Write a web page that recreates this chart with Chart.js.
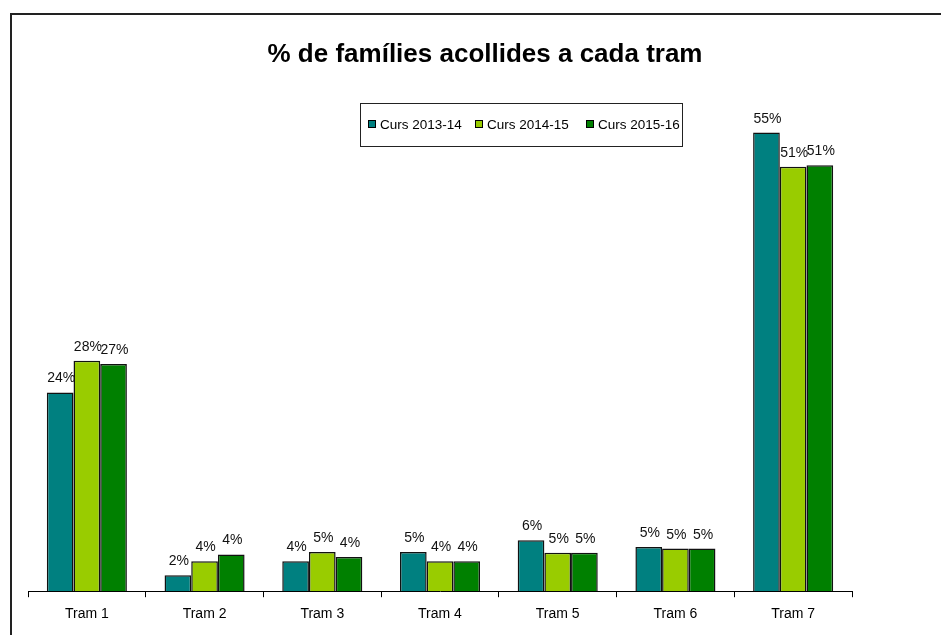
<!DOCTYPE html>
<html>
<head>
<meta charset="utf-8">
<script src="https://cdn.jsdelivr.net/npm/chart.js@4/dist/chart.umd.min.js"></script>
<style>
html,body{margin:0;padding:0;background:#fff;}
canvas{display:block;}
</style>
</head>
<body>
<canvas id="c" width="941" height="635"></canvas>
<script>
const categories = ["Tram 1","Tram 2","Tram 3","Tram 4","Tram 5","Tram 6","Tram 7"];
const seriesNames = ["Curs 2013-14","Curs 2014-15","Curs 2015-16"];
const curs2013 = [23.8, 1.9, 3.6, 4.7, 6.1, 5.3, 54.9];
const curs2014 = [27.6, 3.6, 4.7, 3.6, 4.6, 5.1, 50.8];
const curs2015 = [27.2, 4.4, 4.1, 3.6, 4.6, 5.1, 51.0];
const titleText = "% de famílies acollides a cada tram";
const colors = ["#008080", "#99CC00", "#008000"];

const FONT = "Arial, 'Liberation Sans', sans-serif";

const decor = {
  id: 'decor',
  afterDraw(chart) {
    const ctx = chart.ctx;
    ctx.save();
    // outer frame
    ctx.strokeStyle = '#222';
    ctx.lineWidth = 2;
    ctx.beginPath();
    ctx.moveTo(11, 640);
    ctx.lineTo(11, 14);
    ctx.lineTo(945, 14);
    ctx.stroke();
    // title
    ctx.fillStyle = '#000';
    ctx.font = "bold 26px " + FONT;
    ctx.textAlign = 'center';
    ctx.textBaseline = 'middle';
    ctx.fillText(titleText, 485, 55);
    // data labels
    ctx.font = "14px " + FONT;
    ctx.fillStyle = '#111';
    ctx.textBaseline = 'alphabetic';
    chart.data.datasets.forEach((ds, i) => {
      const meta = chart.getDatasetMeta(i);
      meta.data.forEach((bar, j) => {
        ctx.fillText(Math.round(ds.data[j]) + '%', bar.x + 1, bar.y - 10);
      });
    });
    // legend
    const lx = 360, ly = 103, lw = 322, lh = 43;
    ctx.fillStyle = '#fff';
    ctx.fillRect(lx, ly, lw, lh);
    ctx.strokeStyle = '#222';
    ctx.lineWidth = 1;
    ctx.strokeRect(lx + 0.5, ly + 0.5, lw, lh);
    ctx.font = "13.5px " + FONT;
    ctx.textAlign = 'left';
    ctx.textBaseline = 'middle';
    const xs = [368, 475, 586];
    chart.data.datasets.forEach((ds, i) => {
      const x = xs[i], y = ly + 21;
      ctx.fillStyle = ds.backgroundColor;
      ctx.fillRect(x, y - 4, 8, 8);
      ctx.strokeStyle = '#000';
      ctx.strokeRect(x + 0.5, y - 3.5, 7, 7);
      ctx.fillStyle = '#000';
      ctx.fillText(ds.label, x + 12, y + 1);
    });
    ctx.restore();
  }
};

new Chart(document.getElementById('c'), {
  type: 'bar',
  data: {
    labels: categories,
    datasets: [
      { label: seriesNames[0], data: curs2013, backgroundColor: colors[0] },
      { label: seriesNames[1], data: curs2014, backgroundColor: colors[1] },
      { label: seriesNames[2], data: curs2015, backgroundColor: colors[2] }
    ].map(d => Object.assign(d, { borderColor: '#111', borderWidth: 1.5, barPercentage: 1, categoryPercentage: 0.68 }))
  },
  options: {
    responsive: false,
    animation: false,
    layout: { padding: { left: 28, right: 89, top: 90, bottom: 3 } },
    plugins: { legend: { display: false }, title: { display: false }, tooltip: { enabled: false } },
    scales: {
      y: { display: false, min: 0, max: 60 },
      x: {
        offset: true,
        grid: { display: true, drawOnChartArea: false, offset: true, tickLength: 6, color: '#000', lineWidth: 1 },
        border: { display: true, color: '#000', width: 1 },
        ticks: { color: '#000', font: { family: FONT, size: 14 }, padding: 9 }
      }
    }
  },
  plugins: [decor]
});
</script>
</body>
</html>
